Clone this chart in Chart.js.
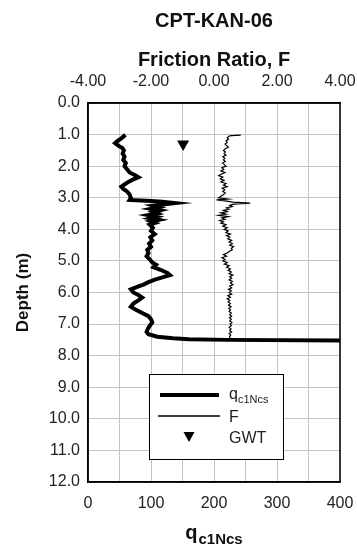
<!DOCTYPE html>
<html>
<head>
<meta charset="utf-8">
<script src="https://cdn.jsdelivr.net/npm/chart.js@4/dist/chart.umd.min.js"></script>
<style>
  html, body { margin: 0; padding: 0; background: #fff; }
  #wrap { width: 357px; height: 546px; position: relative; }
</style>
</head>
<body>
<div id="wrap"><canvas id="c" width="357" height="546"></canvas></div>
<script>
// ---- Data ----
const chartTitle = "CPT-KAN-06";
const topAxisTitle = "Friction Ratio, F";
const depthAxisTitle = "Depth (m)";
const qTitleMain = "q";
const qTitleSub = "c1Ncs";

// q_c1Ncs profile
const qDepth = [1.00,1.05,1.12,1.20,1.27,1.35,1.42,1.50,1.60,1.70,1.80,1.90,2.00,2.10,2.20,2.28,2.35,2.42,2.50,2.58,2.65,2.72,2.80,2.90,3.00,3.07,3.10,3.13,3.17,3.21,3.25,3.30,3.35,3.40,3.45,3.50,3.55,3.60,3.65,3.70,3.75,3.80,3.85,3.95,4.05,4.15,4.25,4.35,4.45,4.55,4.65,4.75,4.85,4.95,5.05,5.12,5.20,5.28,5.38,5.45,5.52,5.60,5.68,5.75,5.82,5.90,6.00,6.08,6.16,6.25,6.35,6.45,6.55,6.65,6.75,6.85,6.95,7.05,7.15,7.25,7.32,7.40,7.45,7.48,7.50,7.52];
const qValues = [55,57,53,47,43,48,54,57,55,58,56,60,58,62,66,74,80,72,64,58,53,56,62,66,68,66,100,118,138,122,104,112,100,114,104,110,96,108,99,112,100,106,98,103,100,106,99,102,97,100,94,96,93,98,102,108,104,115,126,130,118,105,95,88,78,68,72,80,86,80,72,68,76,86,96,100,102,98,95,93,96,110,135,160,220,400];

// Friction ratio profile
const fDepth = [1.02,1.03,1.05,1.10,1.15,1.20,1.25,1.30,1.35,1.40,1.45,1.50,1.55,1.60,1.65,1.70,1.75,1.80,1.85,1.90,1.95,2.00,2.05,2.10,2.15,2.20,2.25,2.30,2.35,2.40,2.45,2.50,2.55,2.60,2.65,2.70,2.75,2.80,2.85,2.90,2.95,3.00,3.04,3.07,3.10,3.14,3.17,3.20,3.24,3.28,3.32,3.36,3.40,3.44,3.48,3.52,3.56,3.60,3.64,3.68,3.72,3.76,3.80,3.85,3.90,3.95,4.00,4.05,4.10,4.15,4.20,4.25,4.30,4.35,4.40,4.45,4.50,4.55,4.60,4.65,4.70,4.75,4.80,4.85,4.90,4.95,5.00,5.05,5.10,5.15,5.20,5.25,5.30,5.35,5.40,5.45,5.50,5.55,5.60,5.65,5.70,5.75,5.80,5.85,5.90,5.95,6.00,6.05,6.10,6.15,6.20,6.25,6.30,6.35,6.40,6.45,6.50,6.55,6.60,6.65,6.70,6.75,6.80,6.85,6.90,6.95,7.00,7.05,7.10,7.15,7.20,7.25,7.30,7.35,7.40,7.45,7.48];
const fValues = [0.85,0.55,0.48,0.42,0.46,0.38,0.42,0.35,0.40,0.46,0.36,0.30,0.36,0.32,0.38,0.28,0.34,0.30,0.36,0.27,0.33,0.38,0.25,0.31,0.22,0.35,0.24,0.15,0.28,0.20,0.32,0.22,0.38,0.30,0.42,0.26,0.34,0.28,0.36,0.30,0.22,0.15,0.45,0.08,0.35,0.60,1.15,0.62,0.50,0.58,0.40,0.48,0.30,0.42,0.22,0.38,0.15,0.45,0.25,0.35,0.18,0.30,0.22,0.38,0.28,0.42,0.32,0.45,0.38,0.52,0.40,0.50,0.44,0.56,0.48,0.58,0.50,0.62,0.55,0.58,0.48,0.42,0.30,0.40,0.25,0.35,0.28,0.42,0.33,0.48,0.40,0.52,0.45,0.55,0.48,0.60,0.50,0.56,0.48,0.58,0.52,0.60,0.50,0.56,0.46,0.55,0.48,0.56,0.44,0.52,0.42,0.50,0.45,0.52,0.46,0.54,0.47,0.52,0.48,0.55,0.50,0.56,0.49,0.55,0.50,0.57,0.51,0.55,0.48,0.54,0.50,0.56,0.48,0.53,0.49,0.52,0.50];

// Ground water table
const gwtDepth = [1.3];
const gwtQ = [151];

// Axis ticks
const depthTicks = [0,1,2,3,4,5,6,7,8,9,10,11,12];
const qTickLabels = [0,100,200,300,400];
const fTickLabels = [-4,-2,0,2,4];

const legendLabels = ["q", "F", "GWT"];

// ---- Build ----
const FONT = "'Liberation Sans', Arial, sans-serif";
Chart.defaults.font.family = FONT;
Chart.defaults.color = '#111';

const qPts = qDepth.map((d, i) => ({ x: qValues[i], y: d }));
const fPts = fDepth.map((d, i) => ({ x: fValues[i], y: d }));
const gwtPts = gwtDepth.map((d, i) => ({ x: gwtQ[i], y: d }));

const decor = {
  id: 'decor',
  afterDraw(chart) {
    const ctx = chart.ctx;
    const a = chart.chartArea;
    ctx.save();
    // frame
    ctx.strokeStyle = '#000';
    ctx.lineWidth = 1.5;
    ctx.strokeRect(a.left, a.top, a.right - a.left, a.bottom - a.top);

    const cx = (a.left + a.right) / 2;
    ctx.fillStyle = '#111';
    ctx.textAlign = 'center';
    ctx.textBaseline = 'alphabetic';
    ctx.font = 'bold 20px ' + FONT;
    ctx.fillText(chartTitle, cx, 27);
    ctx.fillText(topAxisTitle, cx, 66);

    // Depth title
    ctx.save();
    ctx.translate(28, (a.top + a.bottom) / 2);
    ctx.rotate(-Math.PI / 2);
    ctx.font = 'bold 17px ' + FONT;
    ctx.textAlign = 'center';
    ctx.fillText(depthAxisTitle, 0, 0);
    ctx.restore();

    // bottom title q_c1Ncs
    ctx.textAlign = 'left';
    ctx.font = 'bold 20px ' + FONT;
    const w1 = ctx.measureText(qTitleMain).width;
    ctx.font = 'bold 15px ' + FONT;
    const w2 = ctx.measureText(qTitleSub).width;
    const sx = cx - (w1 + w2 + 1) / 2;
    ctx.font = 'bold 20px ' + FONT;
    ctx.fillText(qTitleMain, sx, 539);
    ctx.font = 'bold 15px ' + FONT;
    ctx.fillText(qTitleSub, sx + w1 + 1, 544);

    // legend box
    const lx = 149, ly = 374, lw = 134, lh = 85;
    ctx.fillStyle = '#fff';
    ctx.fillRect(lx, ly, lw, lh);
    ctx.strokeStyle = '#000';
    ctx.lineWidth = 1;
    ctx.strokeRect(lx + 0.5, ly + 0.5, lw, lh);
    ctx.beginPath();
    ctx.lineWidth = 4;
    ctx.moveTo(160, 395); ctx.lineTo(219, 395);
    ctx.stroke();
    ctx.beginPath();
    ctx.lineWidth = 1.3;
    ctx.moveTo(158, 416); ctx.lineTo(220, 416);
    ctx.stroke();
    ctx.beginPath();
    ctx.fillStyle = '#000';
    ctx.moveTo(183.5, 432); ctx.lineTo(194.5, 432); ctx.lineTo(189, 442);
    ctx.closePath();
    ctx.fill();
    ctx.fillStyle = '#222';
    ctx.font = '16px ' + FONT;
    ctx.fillText(legendLabels[0], 229, 399);
    const wq = ctx.measureText(legendLabels[0]).width;
    ctx.font = '11px ' + FONT;
    ctx.fillText(qTitleSub, 229 + wq, 403);
    ctx.font = '16px ' + FONT;
    ctx.fillText(legendLabels[1], 229, 422);
    ctx.fillText(legendLabels[2], 229, 443);
    ctx.restore();
  }
};

function fixH(h) {
  return function (s) { s.height = h; s.paddingLeft = 0; s.paddingRight = 0; };
}

new Chart(document.getElementById('c'), {
  type: 'scatter',
  data: {
    datasets: [
      { label: 'q', data: qPts, xAxisID: 'x', yAxisID: 'y', showLine: true,
        borderColor: '#000', borderWidth: 4, pointRadius: 0, tension: 0, fill: false },
      { label: 'F', data: fPts, xAxisID: 'x2', yAxisID: 'y', showLine: true,
        borderColor: '#000', borderWidth: 1.2, pointRadius: 0, tension: 0, fill: false },
      { label: 'GWT', data: gwtPts, xAxisID: 'x', yAxisID: 'y', showLine: false,
        pointStyle: 'triangle', rotation: 180, pointRadius: 7,
        backgroundColor: '#000', borderColor: '#000', borderWidth: 0 }
    ]
  },
  options: {
    responsive: false,
    animation: false,
    layout: { padding: { left: 0, right: 17, top: 0, bottom: 0 } },
    plugins: { legend: { display: false }, tooltip: { enabled: false }, title: { display: false } },
    scales: {
      y: {
        type: 'linear', position: 'left', reverse: true, min: 0, max: 12,
        afterBuildTicks(s) { s.ticks = depthTicks.map(v => ({ value: v })); },
        ticks: { callback: v => Number(v).toFixed(1), font: { size: 16 }, color: '#222', padding: 8 },
        grid: { color: '#c4c4c4', lineWidth: 1, drawTicks: false },
        border: { color: '#000', width: 1.5 },
        afterFit(s) { s.width = 88; s.paddingTop = 0; s.paddingBottom = 0; }
      },
      x: {
        type: 'linear', position: 'bottom', min: 0, max: 400,
        ticks: { stepSize: 50, font: { size: 16 }, color: '#222', padding: 12, maxRotation: 0,
          callback: v => qTickLabels.includes(v) ? String(v) : '' },
        grid: { color: '#c4c4c4', lineWidth: 1, drawTicks: false },
        border: { color: '#000', width: 1.5 },
        afterFit: fixH(64)
      },
      x2: {
        type: 'linear', position: 'top', min: -4, max: 4,
        ticks: { stepSize: 1, font: { size: 16 }, color: '#222', padding: 12, maxRotation: 0,
          callback: v => fTickLabels.includes(v) ? Number(v).toFixed(2) : '' },
        grid: { display: false, drawTicks: false },
        border: { color: '#000', width: 1.5 },
        afterFit: fixH(103)
      }
    }
  },
  plugins: [decor]
});
</script>
</body>
</html>
